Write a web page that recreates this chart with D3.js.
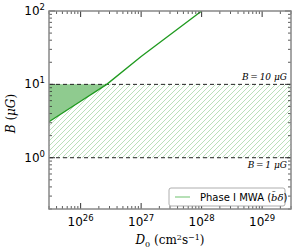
<!DOCTYPE html>
<head>
    <script src="https://cdn.jsdelivr.net/npm/d3@7"></script>
    <style>
        body { margin: 0; background: #fff; }
        text { font-family: "DejaVu Sans", sans-serif; }
        .serif { font-family: "DejaVu Serif", "Liberation Serif", serif; }
    </style>
</head>
<body>
<svg width="306" height="250"></svg>
<script type="text/javascript">
    var svg = d3.select("svg");
    var margin = {left: 49, right: 15, top: 11, bottom: 41};
    var width = 306 - margin.left - margin.right,
        height = 250 - margin.top - margin.bottom;

    // D0 (cm^2 s^-1) and B (uG) along the Phase I MWA curve
    var d0Values = [3e25, 1e26, 2.7e26, 1e27, 1e28];
    var bValues = [3.1, 5.9, 10, 24, 100];
    var refLevels = [10, 1];
    var refLabels = ["B\u2009=\u200910 \u03bcG", "B\u2009=\u20091 \u03bcG"];
    var xTicks = [26, 27, 28, 29];
    var yTicks = [0, 1, 2];

    var x = d3.scaleLog().domain([3e25, 3e29]).range([0, width]);
    var y = d3.scaleLog().domain([0.2, 100]).range([height, 0]);

    var defs = svg.append("defs");
    defs.append("clipPath").attr("id", "clip")
        .append("rect").attr("width", width).attr("height", height);
    var pat = defs.append("pattern").attr("id", "hatch")
        .attr("patternUnits", "userSpaceOnUse")
        .attr("width", 5).attr("height", 5);
    pat.append("path").attr("d", "M-1,1 l2,-2 M0,5 l5,-5 M4,6 l2,-2")
        .attr("stroke", "#a8d8a8").attr("stroke-width", 0.8);

    var g = svg.append("g").attr("transform", "translate(" + margin.left + "," + margin.top + ")");
    var plot = g.append("g").attr("clip-path", "url(#clip)");

    var pts = d0Values.map(function (d, i) { return [d, bValues[i]]; });

    // hatched band between B=1 and B=10
    plot.append("rect")
        .attr("x", 0).attr("width", width)
        .attr("y", y(10)).attr("height", y(1) - y(10))
        .attr("fill", "url(#hatch)");

    // filled region between curve and B=10
    var area = d3.area()
        .x(function (d) { return x(d[0]); })
        .y0(function () { return y(10); })
        .y1(function (d) { return y(d[1]); });
    plot.append("path")
        .datum(pts.filter(function (d) { return d[1] <= 10; }))
        .attr("d", area)
        .attr("fill", "#8fcb8f");

    refLevels.forEach(function (v, i) {
        plot.append("line")
            .attr("x1", 0).attr("x2", width)
            .attr("y1", y(v)).attr("y2", y(v))
            .attr("stroke", "#222").attr("stroke-width", 1)
            .attr("stroke-dasharray", "4,3");
    });

    var line = d3.line()
        .x(function (d) { return x(d[0]); })
        .y(function (d) { return y(d[1]); });
    plot.append("path").datum(pts).attr("d", line)
        .attr("fill", "none").attr("stroke", "#1f9a1f").attr("stroke-width", 1.3);

    // reference labels
    g.append("text").attr("class", "serif")
        .attr("x", width - 4).attr("y", y(10) - 4)
        .attr("text-anchor", "end").attr("font-size", 9).attr("font-style", "italic")
        .text(refLabels[0]);
    g.append("text").attr("class", "serif")
        .attr("x", width - 4).attr("y", y(1) + 10)
        .attr("text-anchor", "end").attr("font-size", 9).attr("font-style", "italic")
        .text(refLabels[1]);

    // ticks on all four sides, pointing inward
    function logTicks(scale, lo, hi) {
        var out = [];
        for (var e = lo; e <= hi; e++) {
            for (var m = 1; m < 10; m++) {
                var v = m * Math.pow(10, e);
                var dm = scale.domain();
                if (v >= dm[0] && v <= dm[1]) out.push({v: v, major: m === 1});
            }
        }
        return out;
    }
    var tickColor = "#333";
    logTicks(x, 25, 29).forEach(function (t) {
        var len = t.major ? 6 : 3;
        [[height, height - len], [0, len]].forEach(function (p) {
            g.append("line").attr("x1", x(t.v)).attr("x2", x(t.v))
                .attr("y1", p[0]).attr("y2", p[1])
                .attr("stroke", tickColor).attr("stroke-width", t.major ? 1 : 0.8);
        });
    });
    logTicks(y, -1, 2).forEach(function (t) {
        var len = t.major ? 6 : 3;
        [[0, len], [width, width - len]].forEach(function (p) {
            g.append("line").attr("y1", y(t.v)).attr("y2", y(t.v))
                .attr("x1", p[0]).attr("x2", p[1])
                .attr("stroke", tickColor).attr("stroke-width", t.major ? 1 : 0.8);
        });
    });

    // frame
    g.append("rect").attr("width", width).attr("height", height)
        .attr("fill", "none").attr("stroke", "#888").attr("stroke-width", 1.5);

    // tick labels
    xTicks.forEach(function (e) {
        var t = g.append("text").attr("x", x(Math.pow(10, e)))
            .attr("y", height + 17).attr("text-anchor", "middle").attr("font-size", 12);
        t.append("tspan").text("10");
        t.append("tspan").attr("dy", -5).attr("font-size", 8.5).text(e);
    });
    yTicks.forEach(function (e) {
        var t = g.append("text").attr("x", -4)
            .attr("y", y(Math.pow(10, e)) + 4).attr("text-anchor", "end").attr("font-size", 12);
        t.append("tspan").text("10");
        t.append("tspan").attr("dy", -5).attr("font-size", 8.5).text(e);
    });

    // axis titles
    var xt = svg.append("text").attr("class", "serif")
        .attr("x", margin.left + width / 2).attr("y", 244)
        .attr("text-anchor", "middle").attr("font-size", 12);
    xt.append("tspan").attr("font-style", "italic").text("D");
    xt.append("tspan").attr("dy", 3).attr("font-size", 8).text("0");
    xt.append("tspan").attr("dy", -3).text(" (cm");
    xt.append("tspan").attr("dy", -4).attr("font-size", 8).text("2");
    xt.append("tspan").attr("dy", 4).text("s");
    xt.append("tspan").attr("dy", -4).attr("font-size", 8).text("\u22121");
    xt.append("tspan").attr("dy", 4).text(")");

    var yt = svg.append("text").attr("class", "serif")
        .attr("transform", "translate(15," + (margin.top + y(4)) + ") rotate(-90)")
        .attr("text-anchor", "middle").attr("font-size", 12);
    yt.append("tspan").attr("font-style", "italic").text("B");
    yt.append("tspan").text(" (");
    yt.append("tspan").attr("font-style", "italic").text("\u03bcG");
    yt.append("tspan").text(")");

    // legend
    var lg = g.append("g").attr("transform", "translate(" + (width - 122) + "," + (height - 21) + ")");
    lg.append("rect").attr("width", 116).attr("height", 18).attr("rx", 2)
        .attr("fill", "#fff").attr("stroke", "#999").attr("stroke-width", 0.8);
    lg.append("line").attr("x1", 6).attr("x2", 21).attr("y1", 9).attr("y2", 9)
        .attr("stroke", "#8fcf8f").attr("stroke-width", 1.3);
    var lt = lg.append("text").attr("x", 31).attr("y", 12.5).attr("font-size", 10);
    lt.append("tspan").text("Phase I MWA (");
    lt.append("tspan").attr("class", "serif").attr("font-style", "italic").text("b\u0304\u03b4");
    lt.append("tspan").text(")");
</script>
</body>
</html>
